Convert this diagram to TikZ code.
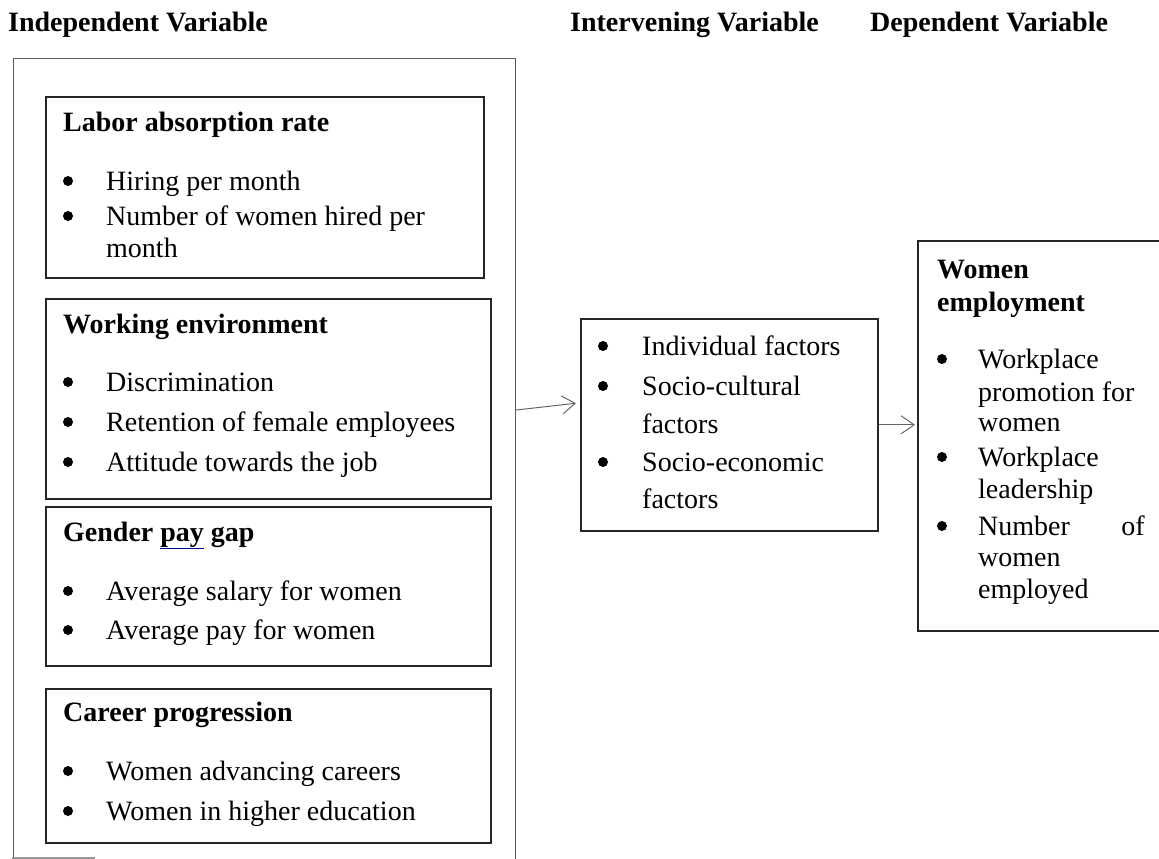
\documentclass[tikz,border=0pt]{standalone}
\usepackage{fontspec}
\setmainfont{Liberation Serif}
\usepackage{tikz}
\usetikzlibrary{arrows.meta}

\newcommand{\spellmark}[1]{{\color{blue!55!black}\underline{{\color{black}#1}}}}

\tikzset{
  txt/.style={anchor=base west, inner sep=0pt, font=\fontsize{28}{34}\selectfont},
  hd/.style={txt, font=\fontsize{28}{34}\selectfont\bfseries},
  vbox/.style={draw=black!85, line width=1.6pt, anchor=north west, inner sep=0pt},
  dot/.style={circle, fill=black, inner sep=0pt, minimum size=10pt},
  link/.style={draw=black!60, line width=1pt, -{Straight Barb[length=13pt,width=18pt]}}
}

\begin{document}
\begin{tikzpicture}[x=1pt,y=-1pt]
\useasboundingbox (0,0) rectangle (1159,859);
\clip (0,0) rectangle (1159,859);

\node[hd] (t1) at (8,32) {Independent Variable};
\node[hd] (t2) at (570,32) {Intervening Variable};
\node[hd] (t3) at (870,32) {Dependent Variable};

\node[draw=black!65, line width=1.2pt, anchor=north west, minimum width=502pt, minimum height=840pt] (indep) at (13,58) {};
\draw[black!40, line width=1.2pt] (12,858) -- (95,858);

\node[vbox, minimum width=438pt, minimum height=181pt] (b1) at (45,96) {};
\node[vbox, minimum width=445pt, minimum height=200pt] (b2) at (45,298) {};
\node[vbox, minimum width=445pt, minimum height=159pt] (b3) at (45,506) {};
\node[vbox, minimum width=445pt, minimum height=154pt] (b4) at (45,688) {};
\node[vbox, minimum width=297pt, minimum height=212pt] (interv) at (580,318) {};
\node[vbox, minimum width=270pt, minimum height=390pt] (dep) at (917,240) {};

\node[hd] (b1h) at (63,131) {Labor absorption rate};
\foreach \y/\b/\t [count=\i] in {190/1/Hiring per month, 225/1/Number of women hired per, 257/0/month}
    {\node[txt] (b1-\i) at (106,\y) {\t};
    \ifnum\b=1 \node[dot] (b1-d\i) at (68,\y-9) {}; \fi}

\node[hd] (b2h) at (63,333) {Working environment};
\foreach \y/\t [count=\i] in {391/Discrimination, 431/Retention of female employees, 471/Attitude towards the job}
    {\node[txt] (b2-\i) at (106,\y) {\t};
    \node[dot] (b2-d\i) at (68,\y-9) {};}

\node[hd] (b3h) at (63,541) {Gender \spellmark{pay} gap};
\foreach \y/\t [count=\i] in {600/Average salary for women, 639/Average pay for women}
    {\node[txt] (b3-\i) at (106,\y) {\t};
    \node[dot] (b3-d\i) at (68,\y-9) {};}

\node[hd] (b4h) at (63,721) {Career progression};
\foreach \y/\t [count=\i] in {780/Women advancing careers, 820/Women in higher education}
    {\node[txt] (b4-\i) at (106,\y) {\t};
    \node[dot] (b4-d\i) at (68,\y-9) {};}

\foreach \y/\b/\t [count=\i] in {355/1/Individual factors, 395/1/Socio-cultural, 433/0/factors, 471/1/Socio-economic, 508/0/factors}
    {\node[txt] (iv-\i) at (642,\y) {\t};
    \ifnum\b=1 \node[dot] (iv-d\i) at (603,\y-9) {}; \fi}

\node[hd] (deph1) at (937,278) {Women};
\node[hd] (deph2) at (937,311) {employment};
\foreach \y/\b/\t [count=\i] in {368/1/Workplace, 401/0/promotion for, 431/0/women, 466/1/Workplace, 498/0/leadership, 535/1/Number, 566/0/women, 598/0/employed}
    {\node[txt] (dp-\i) at (978,\y) {\t};
    \ifnum\b=1 \node[dot] (dp-d\i) at (942,\y-9) {}; \fi}
\node[txt, anchor=base east] (dp-of) at (1145,535) {of};

\draw[link, shorten >=4pt] ([yshift=-352pt]indep.north east) -- ([yshift=22pt]interv.west);
\draw[link, shorten >=2pt] (interv.east) -- (interv.east -| dep.west);
\end{tikzpicture}
\end{document}
